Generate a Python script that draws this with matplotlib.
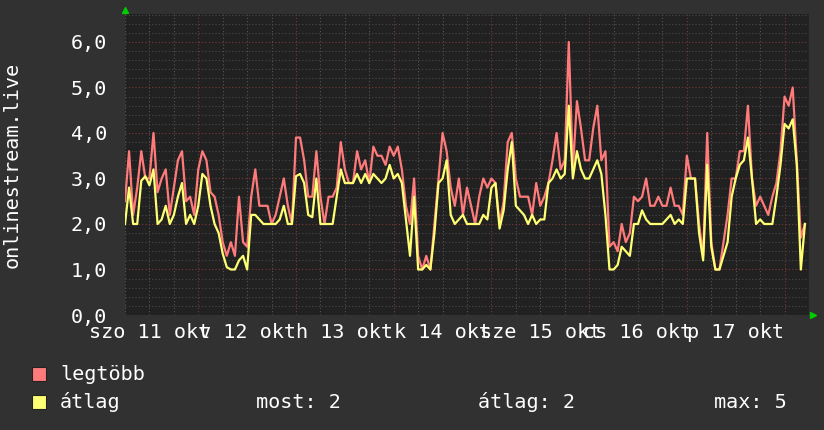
import numpy as np
import matplotlib
matplotlib.use('Agg')
import matplotlib.pyplot as plt
from matplotlib.patches import Rectangle

# hours counted from Oct 11 00:00, one value per hour
hours = list(range(6, 174))

legtobb = [2.5, 3.6, 2.2, 2.8, 3.6, 3.0, 3.0, 4.0, 2.7, 3.0, 3.2, 2.2, 2.8, 3.4, 3.6, 2.5, 2.6, 2.2,
           3.2, 3.6, 3.4, 2.7, 2.6, 2.2, 1.6, 1.3, 1.6, 1.3, 2.6, 1.6, 1.5, 2.6, 3.2, 2.4, 2.4, 2.4,
           2.0, 2.2, 2.6, 3.0, 2.4, 2.0, 3.9, 3.9, 3.4, 2.6, 2.6, 3.6, 2.6, 2.0, 2.6, 2.6, 2.8, 3.8,
           3.2, 2.9, 2.9, 3.6, 3.2, 3.4, 2.9, 3.7, 3.5, 3.5, 3.3, 3.7, 3.5, 3.7, 3.2, 2.4, 2.0, 3.0,
           1.3, 1.0, 1.3, 1.0, 2.0, 3.0, 4.0, 3.6, 2.8, 2.4, 3.0, 2.2, 2.8, 2.4, 2.0, 2.6, 3.0, 2.8,
           3.0, 2.9, 2.0, 2.5, 3.8, 4.0, 3.0, 2.6, 2.6, 2.6, 2.2, 2.9, 2.4, 2.6, 2.9, 3.4, 4.0, 3.2,
           3.4, 6.0, 3.2, 4.7, 4.1, 3.4, 3.4, 4.1, 4.6, 3.4, 3.6, 1.5, 1.6, 1.4, 2.0, 1.6, 1.8, 2.6,
           2.5, 2.6, 3.0, 2.4, 2.4, 2.6, 2.4, 2.4, 2.8, 2.4, 2.4, 2.2, 3.5, 3.0, 3.0, 2.0, 1.3, 4.0,
           1.6, 1.0, 1.0, 1.6, 2.2, 3.0, 3.0, 3.6, 3.6, 4.6, 3.0, 2.4, 2.6, 2.4, 2.2, 2.6, 2.9, 3.6,
           4.8, 4.6, 5.0, 3.4, 1.7, 2.0]

atlag = [2.0, 2.8, 2.0, 2.0, 2.95, 3.05, 2.85, 3.2, 2.0, 2.1, 2.4, 2.0, 2.2, 2.6, 2.9, 2.0, 2.2, 2.0,
         2.4, 3.1, 3.0, 2.4, 2.0, 1.8, 1.35, 1.05, 1.0, 1.0, 1.2, 1.3, 1.0, 2.2, 2.2, 2.1, 2.0, 2.0,
         2.0, 2.0, 2.1, 2.4, 2.0, 2.0, 3.05, 3.1, 2.9, 2.2, 2.15, 3.0, 2.0, 2.0, 2.0, 2.0, 2.6, 3.2,
         2.9, 2.9, 2.9, 3.1, 2.9, 3.1, 2.9, 3.1, 3.0, 2.9, 3.0, 3.3, 3.0, 3.1, 2.9, 2.1, 1.3, 2.6,
         1.0, 1.0, 1.1, 1.0, 1.8, 2.9, 3.0, 3.4, 2.2, 2.0, 2.1, 2.2, 2.0, 2.0, 2.0, 2.0, 2.2, 2.1,
         2.8, 2.9, 1.9, 2.3, 3.2, 3.8, 2.4, 2.3, 2.2, 2.0, 2.2, 2.0, 2.1, 2.1, 2.9, 3.0, 3.2, 3.0,
         3.1, 4.6, 3.0, 3.6, 3.2, 3.0, 3.0, 3.2, 3.4, 3.1, 2.2, 1.0, 1.0, 1.1, 1.5, 1.4, 1.3, 2.0,
         2.0, 2.3, 2.1, 2.0, 2.0, 2.0, 2.0, 2.1, 2.2, 2.0, 2.1, 2.0, 3.0, 3.0, 3.0, 1.8, 1.2, 3.3,
         1.5, 1.0, 1.0, 1.3, 1.6, 2.6, 3.0, 3.3, 3.4, 3.9, 3.0, 2.0, 2.1, 2.0, 2.0, 2.0, 2.6, 3.3,
         4.2, 4.1, 4.3, 3.3, 1.0, 2.0]

day_labels = ['szo 11 okt', 'v 12 okt', 'h 13 okt', 'k 14 okt',
              'sze 15 okt', 'cs 16 okt', 'p 17 okt']
y_labels = ['0,0', '1,0', '2,0', '3,0', '4,0', '5,0', '6,0']

RED = '#ff7b7b'
YEL = '#ffff73'
FONT = 'DejaVu Sans Mono'
FS = 14.5

fig = plt.figure(figsize=(8.24, 4.30), dpi=100, facecolor='#313131')
ax = fig.add_axes([125 / 824, (430 - 315) / 430, 684 / 824, 301 / 430])
ax.set_facecolor('#212121')
ax.set_xlim(6, 174)
ax.set_ylim(0, 6.615)

# grid: minor every 6h / 0.2, major at midnight / whole numbers
for h in range(6, 175, 6):
    major = h % 24 == 0
    ax.axvline(h, color='#7a3a3a' if major else '#555555', lw=0.8,
               ls=(0, (1, 2)), zorder=1)
for v in np.arange(0.2, 6.61, 0.2):
    major = abs(v - round(v)) < 1e-6
    ax.axhline(v, color='#7a3a3a' if major else '#4a4a4a', lw=0.8,
               ls=(0, (1, 2)), zorder=1)

ax.plot(hours, legtobb, color=RED, lw=1.6, zorder=3)
ax.plot(hours, atlag, color=YEL, lw=1.6, zorder=4)

for s in ax.spines.values():
    s.set_visible(False)

ax.set_yticks(range(7))
ax.set_yticklabels(y_labels, fontfamily=FONT, fontsize=FS, color='white')
ax.set_xticks([12 + 24 * i for i in range(7)])
ax.set_xticklabels(day_labels, fontfamily=FONT, fontsize=FS, color='white')
ax.tick_params(axis='y', length=0, pad=13)
ax.tick_params(axis='x', length=0, pad=6)

ax.set_ylabel('onlinestream.live', fontfamily=FONT, fontsize=FS, color='white', labelpad=35)

# green arrows at the axis ends
ax.plot([6], [6.7], marker='^', color='#00cc00', ms=4, clip_on=False, zorder=5)
ax.plot([175], [0], marker='>', color='#00cc00', ms=4, clip_on=False, zorder=5)

# legend
fig.patches.append(Rectangle((32 / 824, (430 - 381) / 430), 14 / 824, 14 / 430,
                             transform=fig.transFigure, facecolor=RED, edgecolor='#222222', lw=0.8))
fig.patches.append(Rectangle((32 / 824, (430 - 409) / 430), 14 / 824, 14 / 430,
                             transform=fig.transFigure, facecolor=YEL, edgecolor='#222222', lw=0.8))
kw = dict(fontfamily=FONT, fontsize=FS, color='white', va='center')
fig.text(60 / 824, 1 - 374 / 430, 'legtöbb', **kw)
fig.text(60 / 824, 1 - 402 / 430, 'átlag', **kw)
fig.text(256 / 824, 1 - 402 / 430, 'most: 2', **kw)
fig.text(478 / 824, 1 - 402 / 430, 'átlag: 2', **kw)
fig.text(714 / 824, 1 - 402 / 430, 'max: 5', **kw)

fig.savefig('out.png', dpi=100, facecolor=fig.get_facecolor())
